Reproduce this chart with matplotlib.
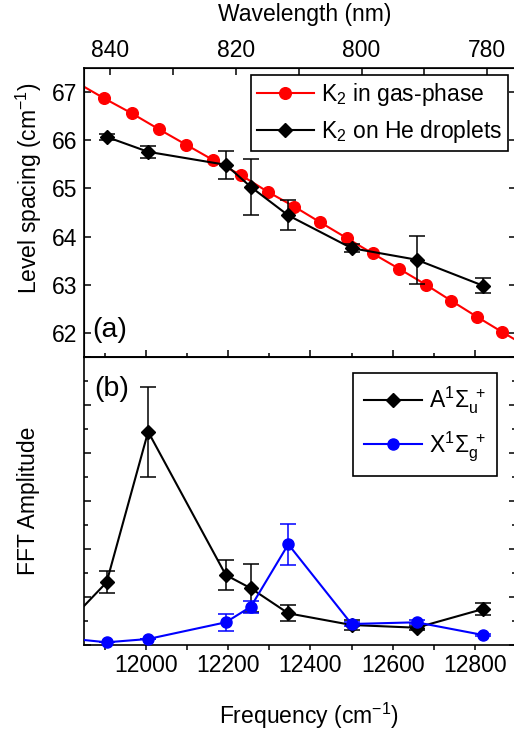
import matplotlib
matplotlib.use('Agg')
import matplotlib.pyplot as plt
from matplotlib.ticker import MultipleLocator, NullFormatter
from matplotlib.lines import Line2D

plt.rcParams['font.family'] = ['Liberation Sans', 'DejaVu Sans']
plt.rcParams['mathtext.fontset'] = 'custom'
plt.rcParams['mathtext.rm'] = 'Liberation Sans'
plt.rcParams['mathtext.it'] = 'Liberation Sans:italic'
plt.rcParams['mathtext.bf'] = 'Liberation Sans:bold'
plt.rcParams['mathtext.default'] = 'regular'

# ---------------- data ----------------
# (a) K2 in gas phase (line continues beyond the plotted window)
gas_freq = [11833, 11898, 11965, 12031, 12097, 12163, 12230, 12296, 12361,
            12423, 12488, 12551, 12616, 12681, 12742, 12804, 12866, 12930]
gas_spacing = [67.19, 66.87, 66.56, 66.23, 65.91, 65.59, 65.28, 64.93, 64.62,
               64.30, 63.97, 63.65, 63.33, 63.00, 62.67, 62.34, 62.02, 61.70]

# (a) K2 on He droplets
drop_freq = [11904, 12005, 12194, 12255, 12346, 12500, 12658, 12820]
drop_spacing = [66.07, 65.76, 65.49, 65.03, 64.44, 63.76, 63.52, 62.98]
drop_err = [0.06, 0.12, 0.29, 0.58, 0.31, 0.08, 0.50, 0.16]

# (b) FFT amplitudes (first value = off-window point where the lines come from)
fft_freq_line = [11800, 11904, 12005, 12194, 12255, 12346, 12500, 12658, 12820]
a_amp_line = [0.373, 1.306, 4.444, 1.458, 1.181, 0.660, 0.417, 0.360, 0.750]
x_amp_line = [0.147, 0.056, 0.125, 0.473, 0.798, 2.098, 0.4375, 0.473, 0.208]

fft_freq = [11904, 12005, 12194, 12255, 12346, 12500, 12658, 12820]
a_amp = [1.306, 4.444, 1.458, 1.181, 0.660, 0.417, 0.360, 0.750]
a_err = [0.23, 0.94, 0.31, 0.50, 0.17, 0.10, 0.04, 0.125]
x_amp = [0.056, 0.125, 0.473, 0.798, 2.098, 0.4375, 0.473, 0.208]
x_err = [0.0, 0.0, 0.18, 0.125, 0.43, 0.04, 0.04, 0.03]

freq_lim = (11849, 12900)
wl_lim = (844.13, 775.44)

# ---------------- figure ----------------
W, H = 514, 736
fig = plt.figure(figsize=(W / 100, H / 100), dpi=100)
L, R = 84, 516
ax1 = fig.add_axes([L / W, 1 - 357 / H, (R - L) / W, 289 / H])
ax2 = fig.add_axes([L / W, 1 - 645 / H, (R - L) / W, 288 / H])

FS = 16.5
FS_PANEL = 20.5
red, blue = '#ff0000', '#0000ff'
ms_c, ms_d = 8.4, 7.0
lw = 1.5
cap = 6.0

for ax in (ax1, ax2):
    for s in ax.spines.values():
        s.set_linewidth(1.2)

# ---- panel (a)
ax1.plot(gas_freq, gas_spacing, color=red, lw=lw, marker='o', ms=ms_c,
         mec=red, mfc=red, zorder=2)
ax1.errorbar(drop_freq, drop_spacing, yerr=drop_err, fmt='none', ecolor='k',
             elinewidth=1.1, capsize=cap, capthick=1.1, zorder=3)
ax1.plot(drop_freq, drop_spacing, color='k', lw=lw, marker='D', ms=ms_d,
         mec='k', mfc='k', zorder=4)
ax1.set_xlim(*freq_lim)
ax1.set_ylim(61.5, 67.5)
ax1.xaxis.set_major_locator(MultipleLocator(200))
ax1.xaxis.set_minor_locator(MultipleLocator(100))
ax1.xaxis.set_major_formatter(NullFormatter())
ax1.yaxis.set_major_locator(MultipleLocator(1))
ax1.tick_params(axis='x', which='both', direction='inout', top=False, bottom=True,
                labelbottom=False)
ax1.tick_params(axis='x', which='major', length=10, width=1.1)
ax1.tick_params(axis='x', which='minor', length=6, width=1.1)
ax1.tick_params(axis='y', which='both', direction='in', left=True, right=True,
                length=5, width=1.1, labelsize=FS, pad=5.0)
ax1.set_ylabel(r'Level spacing (cm$^{-1}$)', fontsize=FS)
ax1.yaxis.set_label_coords((29 - L) / (R - L), (357 - 188.5) / 289)
ax1.yaxis.label.set_va('center')
ax1.text((92 - L) / (R - L), (357 - 330) / 289, '(a)', transform=ax1.transAxes,
         fontsize=FS_PANEL, ha='left', va='center')

top = ax1.twiny()
top.set_xlim(*wl_lim)
top.xaxis.set_major_locator(MultipleLocator(20))
top.xaxis.set_minor_locator(MultipleLocator(10))
top.tick_params(axis='x', which='both', direction='in', top=True, bottom=False,
                labeltop=True, labelbottom=False, width=1.1, labelsize=FS, pad=4.5)
top.tick_params(axis='x', which='major', length=5)
top.tick_params(axis='x', which='minor', length=5)
top.set_xlabel('Wavelength (nm)', fontsize=FS)
top.xaxis.set_label_coords((305 - L) / (R - L), (357 - 15) / 289)
top.xaxis.label.set_va('center')

h_gas = Line2D([], [], color=red, lw=lw, marker='o', ms=ms_c, mec=red, mfc=red)
h_drop = Line2D([], [], color='k', lw=lw, marker='D', ms=ms_d, mec='k', mfc='k')
leg1 = ax1.legend([h_gas, h_drop], [r'K$_2$ in gas-phase', r'K$_2$ on He droplets'],
                  loc='upper right',
                  bbox_to_anchor=((508 - L) / (R - L), (357 - 75) / 289),
                  borderaxespad=0, fontsize=FS, frameon=True, fancybox=False,
                  edgecolor='k', framealpha=1, handlelength=2.5,
                  handletextpad=0.3, borderpad=0.25, labelspacing=0.45)
leg1.get_frame().set_linewidth(1.2)

# ---- panel (b)
ax2.plot(fft_freq_line, a_amp_line, color='k', lw=lw, zorder=3)
ax2.errorbar(fft_freq, a_amp, yerr=a_err, fmt='none', ecolor='k',
             elinewidth=1.1, capsize=cap, capthick=1.1, zorder=3)
ax2.plot(fft_freq, a_amp, ls='none', marker='D', ms=ms_d, mec='k', mfc='k',
         zorder=4, clip_on=False)
ax2.plot(fft_freq_line, x_amp_line, color=blue, lw=lw, zorder=5)
ax2.errorbar(fft_freq, x_amp, yerr=x_err, fmt='none', ecolor=blue,
             elinewidth=1.1, capsize=cap, capthick=1.1, zorder=5)
ax2.plot(fft_freq, x_amp, ls='none', marker='o', ms=ms_c * 0.95, mec=blue,
         mfc=blue, zorder=6, clip_on=False)
ax2.set_xlim(*freq_lim)
ax2.set_ylim(0, 6)
ax2.xaxis.set_major_locator(MultipleLocator(200))
ax2.xaxis.set_minor_locator(MultipleLocator(100))
ax2.yaxis.set_major_locator(MultipleLocator(1))
ax2.yaxis.set_minor_locator(MultipleLocator(0.5))
ax2.tick_params(axis='x', which='both', direction='out', top=False, bottom=True,
                width=1.1, labelsize=FS, pad=3.0)
ax2.tick_params(axis='x', which='major', length=3.6)
ax2.tick_params(axis='x', which='minor', length=3.6)
ax2.tick_params(axis='y', which='both', direction='in', left=True, right=True,
                labelleft=False, width=1.1)
ax2.tick_params(axis='y', which='major', length=5)
ax2.tick_params(axis='y', which='minor', length=3)
ax2.set_xlabel(r'Frequency (cm$^{-1}$)', fontsize=FS)
ax2.xaxis.set_label_coords((309 - L) / (R - L), (645 - 716) / 288)
ax2.xaxis.label.set_va('center')
ax2.set_ylabel('FFT Amplitude', fontsize=FS)
ax2.yaxis.set_label_coords((29 - L) / (R - L), 0.5)
ax2.yaxis.label.set_va('center')
ax2.text((94 - L) / (R - L), (645 - 389) / 288, '(b)', transform=ax2.transAxes,
         fontsize=FS_PANEL, ha='left', va='center')

h_a = Line2D([], [], color='k', lw=lw, marker='D', ms=ms_d, mec='k', mfc='k')
h_x = Line2D([], [], color=blue, lw=lw, marker='o', ms=ms_c * 0.95, mec=blue, mfc=blue)
leg2 = ax2.legend([h_a, h_x], [r'A$^1\Sigma_u^{\ +}$', r'X$^1\Sigma_g^{\ +}$'],
                  loc='upper right',
                  bbox_to_anchor=((497 - L) / (R - L), (645 - 373) / 288),
                  borderaxespad=0, fontsize=FS, frameon=True, fancybox=False,
                  edgecolor='k', framealpha=1, handlelength=2.5,
                  handletextpad=0.3, borderpad=0.5, labelspacing=0.6)
leg2.get_frame().set_linewidth(1.2)

fig.savefig('out.png', dpi=100)
